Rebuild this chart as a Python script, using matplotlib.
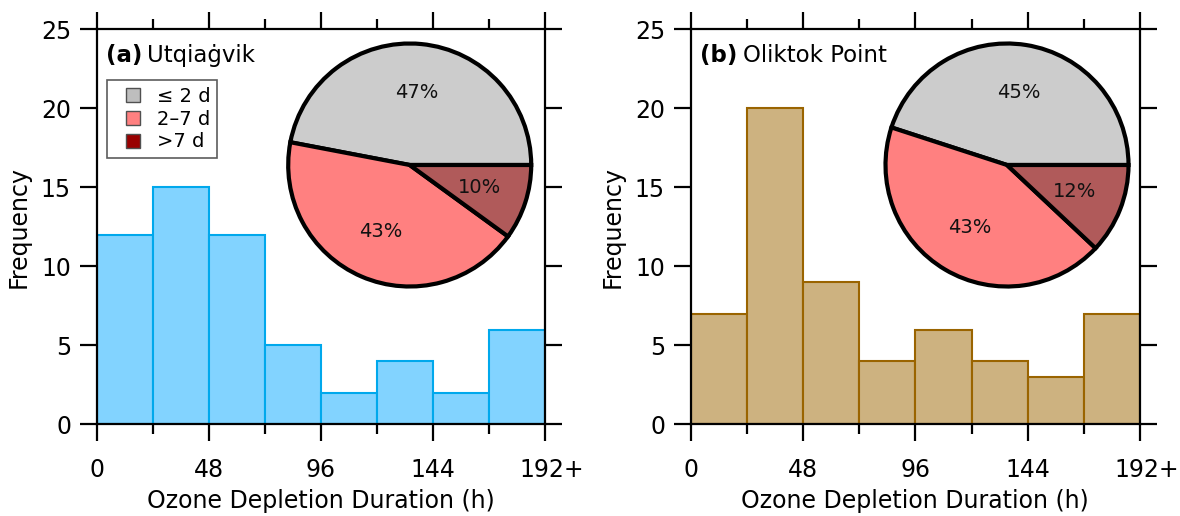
import matplotlib
matplotlib.use("Agg")
import matplotlib.pyplot as plt
from matplotlib.lines import Line2D
from matplotlib.ticker import MultipleLocator
from matplotlib.transforms import ScaledTranslation

plt.rcParams['font.family'] = ['DejaVu Sans']

# Histogram bins (hours) and counts per bin
bin_edges = [0, 24, 48, 72, 96, 120, 144, 168, 192]
counts_utq = [12, 15, 12, 5, 2, 4, 2, 6]
counts_olk = [7, 20, 9, 4, 6, 4, 3, 7]

# Share of events by duration class (%)
pie_labels = ['\u2264 2 d', '2\u20137 d', '>7 d']
pie_utq = [47, 43, 10]
pie_olk = [45, 43, 12]

xtick_vals = [0, 48, 96, 144, 192]
xtick_labels = ['0', '48', '96', '144', '192+']
ytick_vals = [0, 5, 10, 15, 20, 25]

panel_tags = ['(a)', '(b)']
panel_names = ['Utqia\u0121vik', 'Oliktok Point']

hist_face = ['#82D3FF', '#CDB280']
hist_edge = ['#00A8EC', '#9A6400']
pie_colors = ['#CCCCCC', '#FF8080', '#B05A5A']
legend_colors = ['#BEBEBE', '#FF8080', '#990000']

W, H = 1180, 516
fig = plt.figure(figsize=(W / 100, H / 100), dpi=100)

axes_px = [(96.7, 545.0), (690.7, 1140.0)]
top_px, bot_px = 29.3, 424.3
pie_centers = [(409.7, 165.0), (1007.0, 165.0)]
pie_r = 121.5

tick_fs = 17
label_fs = 17
title_fs = 16.5


def draw_panel(i, counts, shares):
    x0, x1 = axes_px[i]
    ax = fig.add_axes([x0 / W, (H - bot_px) / H, (x1 - x0) / W, (bot_px - top_px) / H])
    widths = [b - a for a, b in zip(bin_edges[:-1], bin_edges[1:])]
    ax.bar(bin_edges[:-1], counts, width=widths, align='edge',
           color=hist_face[i], edgecolor=hist_edge[i], linewidth=1.5, zorder=2)
    ax.set_xlim(bin_edges[0], bin_edges[-1])
    ax.set_ylim(0, 25)
    ax.set_xticks(xtick_vals)
    ax.set_xticklabels(xtick_labels)
    ax.xaxis.set_minor_locator(MultipleLocator(24))
    ax.set_yticks(ytick_vals)
    for s in ax.spines.values():
        s.set_linewidth(1.6)
        s.set_zorder(3)
    ax.tick_params(which='both', direction='out', top=True, right=True,
                   labeltop=False, labelright=False, width=1.6, labelsize=tick_fs)
    ax.tick_params(which='major', length=12.5)
    ax.tick_params(which='minor', length=7.2)
    ax.tick_params(axis='x', which='major', pad=12)
    ax.tick_params(axis='y', which='major', pad=6)
    ax.set_xlabel('Ozone Depletion Duration (h)', fontsize=label_fs, labelpad=4.5)
    ax.set_ylabel('Frequency', fontsize=label_fs, labelpad=7)

    # panel title: bold tag followed by station name
    t1 = ax.text(0.021, 0.918, panel_tags[i], transform=ax.transAxes,
                 fontsize=title_fs, fontweight='bold', va='baseline', ha='left')
    fig.canvas.draw()
    bb = t1.get_window_extent()
    inv = ax.transAxes.inverted()
    xr = inv.transform((bb.x1, bb.y0))[0]
    ax.text(xr + 5 / (x1 - x0), 0.918, panel_names[i], transform=ax.transAxes,
            fontsize=title_fs, va='baseline', ha='left')

    # "192+" sits with its digits centred on the tick
    last = ax.xaxis.get_major_ticks()[-1].label1
    last.set_transform(last.get_transform() + ScaledTranslation(5 / 72, 0, fig.dpi_scale_trans))

    # inset pie
    cx, cy = pie_centers[i]
    half = pie_r * 1.1
    pax = fig.add_axes([(cx - half) / W, (H - cy - half) / H, 2 * half / W, 2 * half / H])
    pax.pie(shares, colors=pie_colors, startangle=0, counterclock=True,
            autopct='%.0f%%', pctdistance=0.6, radius=1,
            wedgeprops=dict(edgecolor='black', linewidth=3, joinstyle='miter'),
            textprops=dict(fontsize=14, color='#111111'))
    pax.set_xlim(-1.1, 1.1)
    pax.set_ylim(-1.1, 1.1)
    pax.set_aspect('equal')
    pax.axis('off')
    return ax


ax_a = draw_panel(0, counts_utq, pie_utq)
ax_b = draw_panel(1, counts_olk, pie_olk)

handles = [Line2D([], [], marker='s', linestyle='none', markersize=10,
                  markerfacecolor=c, markeredgecolor='#505050', markeredgewidth=1.0)
           for c in legend_colors]
leg = ax_a.legend(handles, pie_labels, loc='upper left', bbox_to_anchor=(0.023, 0.872),
                  borderaxespad=0, fontsize=14, frameon=True, fancybox=False,
                  handlelength=2.0, handletextpad=0.2, labelspacing=0.2,
                  borderpad=0.35)
leg.get_frame().set_edgecolor('#333333')
leg.get_frame().set_linewidth(1.2)

fig.savefig('out.png', dpi=100)
